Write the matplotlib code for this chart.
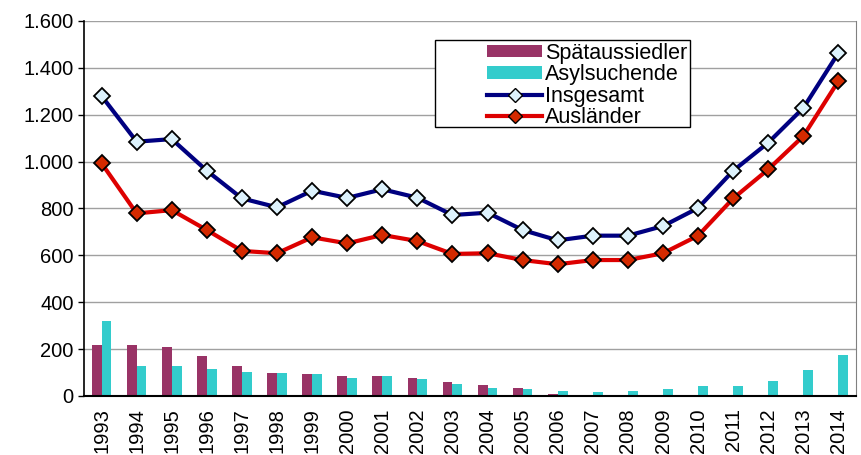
import numpy as np
import matplotlib
matplotlib.use("Agg")
import matplotlib.pyplot as plt
from matplotlib.patches import Rectangle, Patch
from matplotlib.lines import Line2D

plt.rcParams['font.family'] = ['Liberation Sans', 'DejaVu Sans']

years = [str(y) for y in range(1993, 2015)]
spaetaussiedler = [216, 219, 211, 172, 127, 97, 95, 85, 85, 77, 61, 49, 32,
                   7, 6, 4, 3, 2, 2, 2, 2, 2]
asylsuchende = [322, 127, 128, 115, 104, 97, 95, 77, 87, 71, 50, 34, 29,
                20, 19, 22, 28, 41, 44, 63, 109, 173]
insgesamt = [1280, 1085, 1096, 961, 843, 805, 876, 845, 882, 846, 772, 782,
             708, 664, 684, 684, 725, 802, 961, 1081, 1229, 1464]
auslaender = [993, 779, 793, 708, 619, 609, 677, 651, 687, 661, 606, 609,
              580, 562, 580, 580, 609, 684, 843, 967, 1109, 1344]

c_spaet = '#993366'
c_asyl = '#33CCCC'
c_ins = '#000080'
c_aus = '#DD0000'

fig = plt.figure(figsize=(8.61, 4.55), dpi=100)
ax = fig.add_axes([0.0976, 0.1297, 0.8966, 0.8242])

x = np.arange(len(years))
w = 0.28
ax.bar(x - w / 2, spaetaussiedler, w, color=c_spaet, zorder=2)
ax.bar(x + w / 2, asylsuchende, w, color=c_asyl, zorder=2)

ax.plot(x, insgesamt, color=c_ins, lw=3, marker='D', markersize=8,
        markerfacecolor='#DDF2FC', markeredgecolor='black', markeredgewidth=1.3,
        zorder=3)
ax.plot(x, auslaender, color=c_aus, lw=3, marker='D', markersize=8,
        markerfacecolor='#D42A00', markeredgecolor='black', markeredgewidth=1.3,
        zorder=3)

ax.set_xlim(-0.5, len(years) - 0.5)
ax.set_ylim(0, 1600)
ax.set_yticks(range(0, 1601, 200))
ax.set_yticklabels(['0', '200', '400', '600', '800', '1.000', '1.200',
                    '1.400', '1.600'])
ax.set_xticks(x)
ax.set_xticklabels(years, rotation=90)
ax.tick_params(axis='both', labelsize=14.5, colors='black')
ax.tick_params(axis='x', length=0, pad=9)
ax.tick_params(axis='y', length=4, width=1)

ax.grid(axis='y', color='#A0A0A0', lw=1, zorder=0)
ax.set_axisbelow(True)
ax.spines['top'].set_visible(False)
ax.spines['right'].set_color('#808080')
ax.spines['left'].set_color('black')
ax.spines['bottom'].set_color('black')
ax.spines['left'].set_linewidth(1.2)
ax.spines['bottom'].set_linewidth(1.5)

handles = [
    Patch(facecolor=c_spaet),
    Patch(facecolor=c_asyl),
    Line2D([], [], color=c_ins, lw=3, marker='D', markersize=7,
           markerfacecolor='#DDF2FC', markeredgecolor='black'),
    Line2D([], [], color=c_aus, lw=3, marker='D', markersize=7,
           markerfacecolor='#D42A00', markeredgecolor='black'),
]
labels = ['Spätaussiedler', 'Asylsuchende', 'Insgesamt', 'Ausländer']
ax.add_patch(Rectangle((0.455, 0.717), 0.33, 0.233, transform=ax.transAxes,
                       facecolor='white', edgecolor='black', lw=1, zorder=4))
leg = ax.legend(handles, labels, loc='upper left', bbox_to_anchor=(0.522, 0.942),
                frameon=False, fontsize=15.5, handlelength=2.56, handleheight=0.5,
                handletextpad=0.14, labelspacing=0.02, borderpad=0,
                borderaxespad=0)
leg.set_zorder(5)

fig.savefig('out.png', dpi=100)
